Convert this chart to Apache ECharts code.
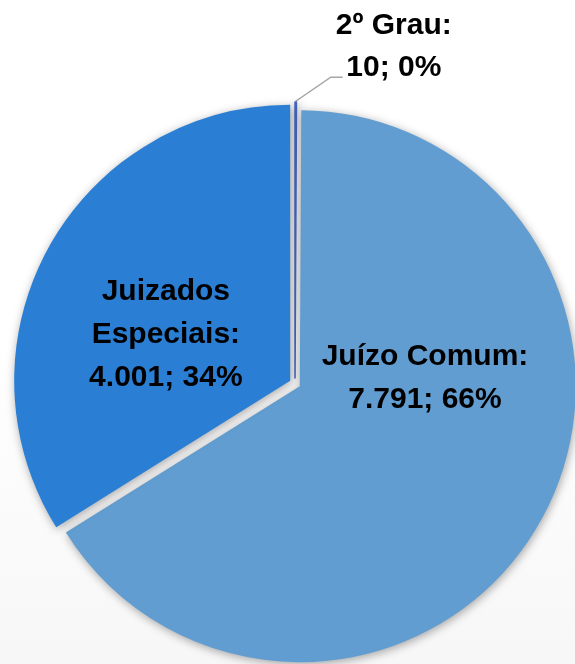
<!DOCTYPE html>
<html>
<head>
<meta charset="utf-8">
<script src="https://cdn.jsdelivr.net/npm/echarts@6/dist/echarts.min.js"></script>
<style>
  html, body { margin: 0; padding: 0; background: #fff; }
  #chart { width: 575px; height: 664px; }
</style>
</head>
<body>
<div id="chart"></div>
<script>
// dados
const categories = ['2º Grau', 'Juízo Comum', 'Juizados\nEspeciais']
const values = [10, 7791, 4001]
const colors = ['#4566c2', '#619dd0', '#2a7fd5']

// deslocamento dos rótulos (dx, dy)
const labelShift = [[81, -35], [2, -77], [-1, 22]]

function fmt (n) {
  return String(n).replace(/\B(?=(\d{3})+(?!\d))/g, '.')
}

const chart = echarts.init(document.getElementById('chart'))

chart.setOption({
  animation: false,
  backgroundColor: {
    type: 'linear', x: 0, y: 0, x2: 0, y2: 1,
    colorStops: [
      { offset: 0, color: '#ffffff' },
      { offset: 0.5, color: '#ffffff' },
      { offset: 1, color: '#f7f7f7' }
    ]
  },
  series: [
    {
      type: 'pie',
      center: [295, 383.5],
      radius: 276,
      startAngle: 90,
      selectedMode: 'multiple',
      selectedOffset: 5.5,
      emphasis: { disabled: true },
      itemStyle: {
        borderWidth: 0,
        shadowBlur: 10,
        shadowColor: 'rgba(0,0,0,0.35)',
        shadowOffsetX: 1,
        shadowOffsetY: 2
      },
      label: {
        show: true,
        position: 'inside',
        fontFamily: 'Liberation Sans, Arial, sans-serif',
        fontWeight: 'bold',
        fontSize: 30,
        lineHeight: 43,
        color: '#000',
        align: 'center',
        formatter: function (p) {
          return p.name + ':\n' + fmt(p.value) + '; ' + Math.round(p.percent) + '%'
        }
      },
      labelLine: {
        show: false
      },
      labelLayout: function (p) {
        const s = labelShift[p.dataIndex]
        if (p.dataIndex === 0) {
          const r = p.rect
          const tx = r.x + r.width / 2
          const ty = r.y
          return {
            dx: s[0],
            dy: s[1],
            align: 'center',
            verticalAlign: 'middle',
            labelLinePoints: [[tx, ty], [tx + 35, ty - 24], [tx + 47, ty - 24]]
          }
        }
        return { dx: s[0], dy: s[1] }
      },
      data: categories.map(function (c, i) {
        const item = {
          name: c,
          value: values[i],
          selected: true,
          itemStyle: { color: colors[i] }
        }
        if (i === 0) {
          item.itemStyle.borderWidth = 1.5
          item.itemStyle.borderColor = colors[0]
          item.label = { position: 'outside', lineHeight: 42 }
          item.labelLine = {
            show: true,
            length: 20,
            length2: 12,
            lineStyle: { color: '#a6a6a6', width: 1.5 }
          }
        }
        return item
      })
    }
  ]
})
</script>
</body>
</html>
